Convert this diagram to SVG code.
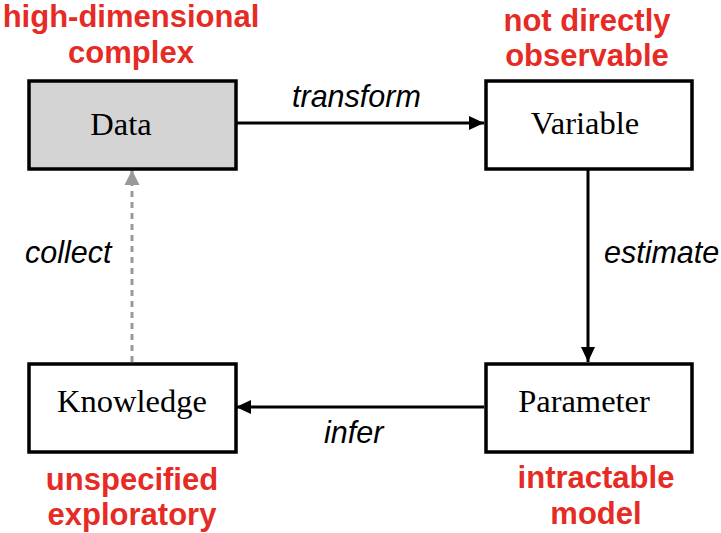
<svg xmlns="http://www.w3.org/2000/svg" width="721" height="533" viewBox="0 0 721 533">
<style>
.box{fill:#fff;stroke:#000;stroke-width:3.5}
.gray{fill:#d4d4d4}
.node{font-family:"Liberation Serif","Times New Roman",serif;font-size:32.5px;fill:#000;text-anchor:middle}
.note{font-family:"Liberation Sans",Arial,sans-serif;font-size:31px;font-weight:bold;fill:#e62b25;text-anchor:middle}
.lbl{font-family:"Liberation Sans",Arial,sans-serif;font-size:30.5px;font-style:italic;fill:#000}
.edge{stroke:#000;stroke-width:3;fill:none}
.dash{stroke:#999;stroke-width:3;fill:none;stroke-dasharray:6 5}
</style>
<defs>
<marker id="ah" markerUnits="userSpaceOnUse" markerWidth="16" markerHeight="16" viewBox="0 0 16 16" refX="15" refY="8" orient="auto">
<path d="M0,1 L15,8 L0,15 Z" fill="#000"/>
</marker>
<marker id="ahg" markerUnits="userSpaceOnUse" markerWidth="16" markerHeight="16" viewBox="0 0 16 16" refX="15" refY="8" orient="auto">
<path d="M0,0.5 L15,8 L0,15.5 Z" fill="#999"/>
</marker>
</defs>
<rect width="721" height="533" fill="#fff"/>
<g id="connectors">
<line class="edge" x1="237" y1="123" x2="484" y2="123" marker-end="url(#ah)"/>
<line class="edge" x1="588" y1="170" x2="588" y2="362" marker-end="url(#ah)"/>
<line class="edge" x1="484" y1="407" x2="236" y2="407" marker-end="url(#ah)"/>
<line class="dash" x1="132" y1="362" x2="132" y2="170" marker-end="url(#ahg)"/>
<text class="lbl" x="292" y="107">transform</text>
<text class="lbl" x="604" y="263">estimate</text>
<text class="lbl" x="324" y="443">infer</text>
<text class="lbl" x="25" y="263">collect</text>
</g>
<g id="data">
<rect class="box gray" x="29" y="81" width="207" height="88"/>
<text class="node" x="121" y="135">Data</text>
<text class="note" x="131" y="27">high-dimensional</text>
<text class="note" x="131" y="63">complex</text>
</g>
<g id="variable">
<rect class="box" x="486" y="81" width="206" height="88"/>
<text class="node" x="585" y="134">Variable</text>
<text class="note" x="587" y="31">not directly</text>
<text class="note" x="587" y="66">observable</text>
</g>
<g id="parameter">
<rect class="box" x="486" y="364" width="206" height="88"/>
<text class="node" x="584" y="412">Parameter</text>
<text class="note" x="596" y="488">intractable</text>
<text class="note" x="596" y="524">model</text>
</g>
<g id="knowledge">
<rect class="box" x="29" y="364" width="207" height="88"/>
<text class="node" x="132" y="412">Knowledge</text>
<text class="note" x="132" y="490">unspecified</text>
<text class="note" x="132" y="525">exploratory</text>
</g>
</svg>
